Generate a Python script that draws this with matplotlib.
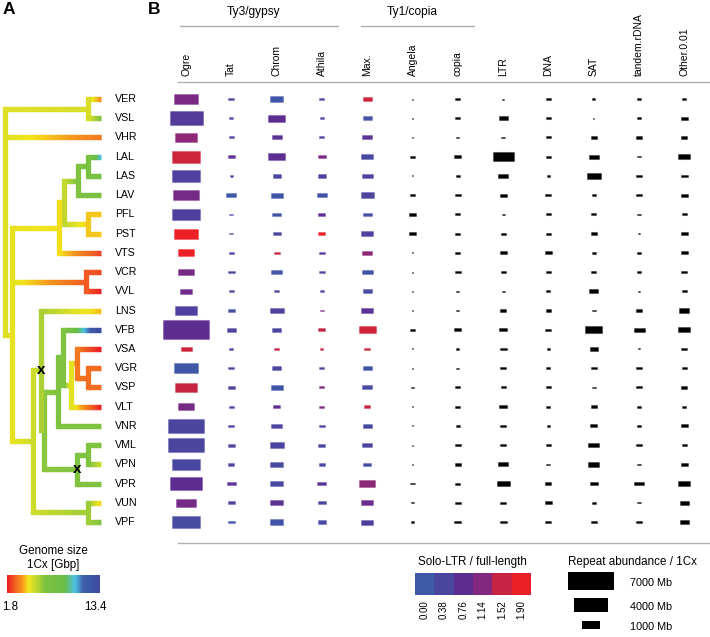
import numpy as np
import matplotlib.pyplot as plt
from matplotlib.collections import LineCollection
from matplotlib.colors import LinearSegmentedColormap, Normalize, to_rgba
from matplotlib.patches import Rectangle

plt.rcParams['font.family'] = ['Liberation Sans', 'DejaVu Sans']

# species (top to bottom) and genome size 1Cx [Gbp]
species = ['VER', 'VSL', 'VHR', 'LAL', 'LAS', 'LAV', 'PFL', 'PST', 'VTS', 'VCR', 'VVL', 'LNS',
           'VFB', 'VSA', 'VGR', 'VSP', 'VLT', 'VNR', 'VML', 'VPN', 'VPR', 'VUN', 'VPF']
genome_gbp = [3.6, 6.5, 3.2, 10.3, 7.0, 7.0, 4.2, 4.2, 2.4, 2.5, 1.9, 4.1,
              13.4, 1.8, 3.0, 3.0, 1.9, 6.5, 6.5, 5.2, 6.5, 4.3, 6.5]

# phylogeny: (relative depth, genome size at node, children[, marked]); tips are names
tree = (0.0, 4.9, [
    (0.863, 5.0, ['VER', 'VSL']),
    'VHR',
    (0.074, 4.7, [
        (0.558, 4.4, [
            (0.61, 5.4, [
                (0.758, 6.5, [(0.863, 7.0, ['LAL', 'LAS']), 'LAV']),
                (0.863, 4.2, ['PFL', 'PST'])]),
            'VTS']),
        (0.842, 2.7, ['VCR', 'VVL']),
        (0.295, 5.2, [
            (0.379, 5.8, [
                'LNS',
                (0.41, 6.3, [
                    (0.547, 6.5, [
                        (0.60, 6.5, [
                            'VFB',
                            (0.684, 4.8, [
                                (0.747, 3.2, ['VSA', (0.863, 3.0, ['VGR', 'VSP'])]),
                                'VLT'])]),
                        'VNR']),
                    (0.747, 6.5, [(0.863, 6.5, ['VML', 'VPN']), 'VPR'], True)])], True),
            (0.863, 6.0, ['VUN', 'VPF'])])])])

columns = ['Ogre', 'Tat', 'Chrom', 'Athila', 'Max.', 'Angela', 'copia',
           'LTR', 'DNA', 'SAT', 'tandem.rDNA', 'Other.0.01']
groups = [('Ty3/gypsy', 0, 3), ('Ty1/copia', 4, 6)]

# repeat abundance per 1Cx [Mb]
ogre = [1750, 3600, 1600, 2780, 2780, 2235, 2590, 1900, 955, 745, 475, 1460,
        7000, 400, 2065, 1460, 955, 4285, 4285, 2410, 3180, 1195, 2780]
tat = [120, 55, 85, 160, 30, 330, 55, 55, 85, 160, 85, 160,
       270, 55, 120, 160, 85, 120, 160, 120, 270, 160, 160]
chrom = [560, 955, 330, 955, 210, 475, 270, 210, 120, 400, 85, 650,
         270, 85, 270, 475, 160, 400, 650, 560, 560, 560, 560]
athila = [85, 55, 85, 210, 210, 330, 160, 160, 120, 120, 55, 55,
          160, 30, 85, 85, 85, 120, 160, 120, 270, 210, 210]
maximus = [270, 270, 330, 475, 400, 560, 270, 475, 330, 400, 270, 475,
           955, 120, 270, 330, 120, 270, 330, 210, 845, 475, 475]
angela = [13, 7, 3, 55, 13, 55, 120, 160, 13, 3, 1, 13,
          55, 3, 13, 30, 13, 13, 7, 3, 55, 30, 30]
copia = [85, 85, 30, 160, 55, 120, 85, 85, 85, 120, 30, 30,
         160, 30, 30, 85, 85, 55, 120, 120, 85, 120, 160]
ltr = [13, 270, 55, 1460, 330, 160, 30, 85, 160, 85, 30, 120,
       210, 160, 120, 85, 210, 120, 120, 330, 560, 120, 160]
dna = [85, 85, 85, 85, 30, 120, 85, 85, 160, 85, 55, 85,
       120, 30, 55, 85, 55, 30, 85, 55, 120, 160, 120]
sat = [30, 7, 120, 330, 650, 55, 85, 120, 55, 85, 270, 55,
       955, 210, 120, 55, 120, 160, 400, 400, 210, 55, 120]
rdna = [30, 55, 160, 30, 160, 85, 30, 13, 55, 30, 13, 85,
        400, 3, 85, 85, 55, 30, 85, 55, 270, 30, 85]
other = [55, 160, 120, 475, 160, 160, 85, 160, 160, 120, 85, 330,
         475, 120, 85, 120, 55, 160, 85, 160, 475, 270, 270]
abundance = [ogre, tat, chrom, athila, maximus, angela, copia, ltr, dna, sat, rdna, other]

# solo-LTR / full-length ratio (only the coloured lineages)
ogre_r = [1.05, 0.55, 1.2, 1.6, 0.45, 1.0, 0.5, 1.9, 1.9, 1.0, 0.95, 0.45,
          0.75, 1.6, 0.1, 1.55, 1.0, 0.4, 0.4, 0.35, 0.75, 1.0, 0.3]
tat_r = [0.4, 0.4, 0.4, 0.7, 0.4, 0.1, 0.4, 0.4, 0.4, 0.3, 0.4, 0.3,
         0.4, 0.4, 0.4, 0.4, 0.4, 0.4, 0.4, 0.4, 0.7, 0.4, 0.2]
chrom_r = [0.1, 0.75, 0.7, 0.75, 0.35, 0.1, 0.15, 0.35, 1.55, 0.1, 0.4, 0.45,
           0.4, 1.55, 0.4, 0.1, 0.75, 0.4, 0.4, 0.35, 0.35, 0.7, 0.15]
athila_r = [0.4, 0.4, 0.4, 1.1, 0.45, 0.2, 0.7, 1.9, 0.6, 0.4, 0.4, 1.1,
            1.5, 1.5, 0.4, 1.1, 1.1, 0.4, 0.4, 0.35, 0.65, 0.4, 0.3]
maximus_r = [1.6, 0.15, 0.7, 0.35, 0.5, 0.4, 0.2, 0.45, 1.2, 0.15, 0.35, 0.7,
             1.65, 1.55, 0.15, 0.35, 1.55, 0.35, 0.4, 0.35, 1.2, 0.9, 0.5]
ratios = [ogre_r, tat_r, chrom_r, athila_r, maximus_r]

legend_mb = [7000, 4000, 1000]
ratio_ticks = [0.00, 0.38, 0.76, 1.14, 1.52, 1.90]
gs_min, gs_max = 1.8, 13.4

# colour maps
ratio_colors = ['#3d5ba9', '#4a46a0', '#5e2d92', '#82297f', '#c42442', '#ed1f26']
ratio_cmap = LinearSegmentedColormap.from_list('ratio', ratio_colors)
ratio_norm = Normalize(0, 1.9)
gs_cmap = LinearSegmentedColormap.from_list('gs', [
    (0.0, '#ec1c24'), (0.09, '#f26522'), (0.16, '#f7941d'), (0.23, '#f3e61c'),
    (0.31, '#c3d82f'), (0.41, '#7cc242'), (0.62, '#6abd45'), (0.73, '#4dc4e3'),
    (0.82, '#3f5fac'), (1.0, '#3b4a9f')])
gs_norm = Normalize(gs_min, gs_max)

# layout in pixels
row0, row_step = 99, 19.23
col0, col_step = 186, 45.3
x_root, x_tip = 5, 101


def row_y(i):
    return row0 + i * row_step


def col_x(j):
    return col0 + j * col_step


def box_size(mb):
    w = max(0.55 * np.sqrt(mb), 1.2)
    return w, max(w / 2.45, 1.0)


fig = plt.figure(figsize=(7.1, 6.37), dpi=100)
ax = fig.add_axes([0, 0, 1, 1])
ax.set_xlim(0, 710)
ax.set_ylim(637, 0)
ax.axis('off')

# ---- panel A: tree ----
hsegs, hcols, vsegs, vcols, marks = [], [], [], [], []


def depth_x(d):
    return x_root + d * (x_tip - x_root)


def walk(node):
    if isinstance(node, str):
        i = species.index(node)
        return row_y(i), genome_gbp[i], 1.0
    depth, g, kids = node[0], node[1], node[2]
    info = [walk(k) for k in kids]
    x0 = depth_x(depth)
    y = (info[0][0] + info[-1][0]) / 2
    vsegs.append([(x0, info[0][0]), (x0, info[-1][0])])
    vcols.append(gs_cmap(gs_norm(g)))
    for cy, cg, cd in info:
        x1 = depth_x(cd)
        n = max(int((x1 - x0) / 1.5), 2)
        xs = np.linspace(x0, x1, n + 1)
        vals = np.linspace(g, cg, n)
        for k in range(n):
            hsegs.append([(xs[k], cy), (min(xs[k + 1] + 1.0, x1), cy)])
            hcols.append(gs_cmap(gs_norm(vals[k])))
    if len(node) > 3 and node[3]:
        marks.append((x0, y))
    return y, g, depth


walk(tree)
ax.add_collection(LineCollection(hsegs, colors=hcols, linewidths=3.8, capstyle='butt'))
ax.add_collection(LineCollection(vsegs, colors=vcols, linewidths=3.8, capstyle='projecting'))
for mx, my in marks:
    ax.text(mx, my, 'x', ha='center', va='center', fontsize=11, fontweight='bold')

for i, s in enumerate(species):
    ax.text(115, row_y(i), s, ha='left', va='center', fontsize=7.7)

# genome size legend
ax.text(53, 551, 'Genome size', ha='center', va='center', fontsize=8.4)
ax.text(53, 565, '1Cx [Gbp]', ha='center', va='center', fontsize=8.4)
grad = np.linspace(0, 1, 256)[None, :]
ax.imshow(grad, cmap=gs_cmap, extent=(7, 100, 593, 575), aspect='auto')
ax.text(2, 607, f'{gs_min}', ha='left', va='center', fontsize=8.4)
ax.text(107, 607, f'{gs_max}', ha='right', va='center', fontsize=8.4)

# ---- panel B: repeat boxes ----
for j, name in enumerate(columns):
    ax.text(col_x(j), 76, name, rotation=90, ha='center', va='bottom', fontsize=7.5)
    for i in range(len(species)):
        w, h = box_size(abundance[j][i])
        if j < len(ratios):
            c = ratio_cmap(ratio_norm(ratios[j][i]))
        else:
            c = (0, 0, 0, 1)
        ax.add_patch(Rectangle((col_x(j) - w / 2, row_y(i) - h / 2), w, h,
                               facecolor=c, edgecolor=to_rgba(c, 0.3), linewidth=0.8))

for label, a, b in groups:
    xa, xb = col_x(a) - 6, col_x(b) + 16
    ax.plot([xa, xb], [26, 26], color='#b0b0b0', lw=1)
    ax.text((col_x(a) + col_x(b)) / 2, 12, label, ha='center', va='center', fontsize=8.6)

ax.plot([178, 710], [82, 82], color='#b0b0b0', lw=1)
ax.plot([178, 710], [543, 543], color='#b0b0b0', lw=1)

# solo-LTR legend
ax.text(472, 562, 'Solo-LTR / full-length', ha='center', va='center', fontsize=8.4)
bw = (531 - 415) / len(ratio_ticks)
for k, t in enumerate(ratio_ticks):
    ax.add_patch(Rectangle((415 + k * bw, 573), bw, 22, facecolor=ratio_cmap(ratio_norm(t)),
                           edgecolor='none'))
    ax.text(415 + (k + 0.5) * bw, 600, f'{t:.2f}', rotation=90, ha='center', va='top', fontsize=7)

# abundance legend
ax.text(632, 562, 'Repeat abundance / 1Cx', ha='center', va='center', fontsize=8.4)
for mb, y in zip(legend_mb, [581, 605, 625]):
    w, h = box_size(mb)
    ax.add_patch(Rectangle((591 - w / 2, y - h / 2), w, h, facecolor='black'))
    ax.text(630, y + 2, f'{mb} Mb', ha='left', va='center', fontsize=7.8)

ax.text(3, 9, 'A', ha='left', va='center', fontsize=12.5, fontweight='bold')
ax.text(148, 9, 'B', ha='left', va='center', fontsize=12.5, fontweight='bold')

fig.savefig('out.png', dpi=100)
